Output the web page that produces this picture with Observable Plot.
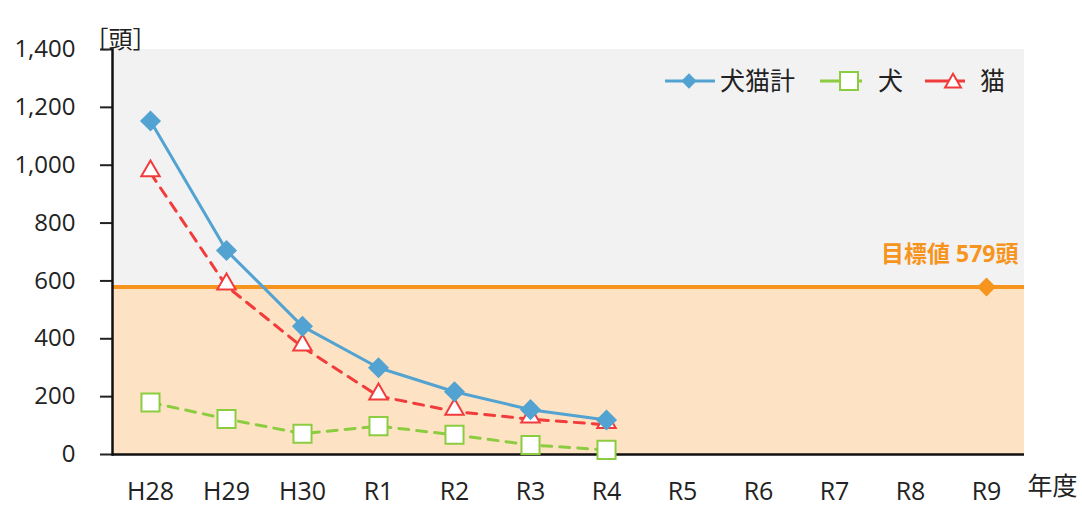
<!DOCTYPE html>
<html><head><meta charset="utf-8">
<script src="https://cdn.jsdelivr.net/npm/d3@7"></script>
<script src="https://cdn.jsdelivr.net/npm/@observablehq/plot@0.6"></script>
<style>
body{margin:0;background:#fff;font-family:'Open Sans','Noto Sans CJK JP',sans-serif;}
#wrap{position:relative;width:1082px;height:506px;}
#legend{position:absolute;left:660px;top:58px;overflow:visible;}
</style></head>
<body><div id="wrap"><div id="chart"></div>
<svg id="legend" width="390" height="46"></svg></div>
<script>
const years = ["H28","H29","H30","R1","R2","R3","R4","R5","R6","R7","R8","R9"];
const dataYears = ["H28","H29","H30","R1","R2","R3","R4"];
const total = [1153, 705, 443, 300, 217, 155, 119];
const dogs = [180, 123, 72, 98, 68, 33, 16];
const cats = [973, 582, 371, 202, 149, 122, 103];
const target = 579;
const targetYear = "R9";
const yTicks = [0, 200, 400, 600, 800, 1000, 1200, 1400];
const seriesNames = ["犬猫計", "犬", "猫"];

const cBlue = "#52a2d2", cGreen = "#8ccc40", cRed = "#f23c3c", cOrange = "#f7941d";
const font = "'Open Sans','Noto Sans CJK JP',sans-serif";

const tot = dataYears.map((y, i) => ({year: y, v: total[i]}));
const dog = dataYears.map((y, i) => ({year: y, v: dogs[i]}));
const cat = dataYears.map((y, i) => ({year: y, v: cats[i]}));

const chart = Plot.plot({
  width: 1082, height: 506,
  marginTop: 49, marginBottom: 52, marginLeft: 112, marginRight: 58,
  style: {fontFamily: font, color: "#222", background: "transparent"},
  x: {type: "point", domain: years, padding: 0.5},
  y: {domain: [0, 1400]},
  marks: [
    Plot.rect([{y1: target, y2: 1400}], {y1: "y1", y2: "y2", fill: "#f2f2f2"}),
    Plot.rect([{y1: 0, y2: target}], {y1: "y1", y2: "y2", fill: "#fde3c3"}),
    Plot.ruleY([target], {stroke: cOrange, strokeWidth: 4}),
    Plot.axisY({ticks: yTicks, tickFormat: d3.format(","), tickSize: 12, tickPadding: 25, fontSize: 24, strokeWidth: 2, label: null}),
    Plot.axisX({tickSize: 0, tickPadding: 28, fontSize: 25, label: null}),
    Plot.ruleY([0], {stroke: "#111", strokeWidth: 2.5}),
    Plot.frame({anchor: "left", stroke: "#111", strokeWidth: 2.5}),
    Plot.lineY(dog, {x: "year", y: "v", stroke: cGreen, strokeWidth: 3, strokeDasharray: "10,8"}),
    Plot.lineY(cat, {x: "year", y: "v", stroke: cRed, strokeWidth: 3, strokeDasharray: "10,8"}),
    Plot.lineY(tot, {x: "year", y: "v", stroke: cBlue, strokeWidth: 3}),
    Plot.dot(dog, {x: "year", y: "v", symbol: "square2", r: 11.5, fill: "white", stroke: cGreen, strokeWidth: 2}),
    Plot.dot(cat, {x: "year", y: "v", symbol: "triangle2", r: 8.8, dy: -2, fill: "white", stroke: cRed, strokeWidth: 2}),
    Plot.dot(tot, {x: "year", y: "v", symbol: "diamond2", r: 9.5, fill: cBlue}),
    Plot.dot([{year: targetYear, v: target}], {x: "year", y: "v", symbol: "diamond2", r: 8.5, fill: cOrange}),
    Plot.text([`目標値 ${target}頭`], {frameAnchor: "right", y: () => target, dx: -6, dy: -32, textAnchor: "end", fill: cOrange, fontSize: 23, fontWeight: "bold"}),
    Plot.text(["年度"], {frameAnchor: "bottom-right", dx: 3, dy: 40, textAnchor: "start", fontSize: 25, fill: "#222"}),
    Plot.text(["［頭］"], {frameAnchor: "top-left", dx: 8, dy: -19, textAnchor: "middle", fontSize: 24, fill: "#222"})
  ]
});
document.getElementById("chart").appendChild(chart);

// legend
const lg = d3.select("#legend");
const cy = 23;
const fs = 25;
// total
lg.append("line").attr("x1", 5).attr("x2", 55).attr("y1", cy).attr("y2", cy).attr("stroke", cBlue).attr("stroke-width", 3);
lg.append("path").attr("d", d3.symbol(d3.symbolDiamond2, 150)()).attr("transform", `translate(29,${cy})`).attr("fill", cBlue);
lg.append("text").attr("x", 60).attr("y", cy).attr("dy", "0.36em").attr("font-size", fs).attr("fill", "#222").style("font-family", font).text(seriesNames[0]);
// dog
lg.append("line").attr("x1", 160).attr("x2", 202).attr("y1", cy).attr("y2", cy).attr("stroke", cGreen).attr("stroke-width", 3);
lg.append("rect").attr("x", 180).attr("y", cy - 9).attr("width", 18).attr("height", 18).attr("fill", "white").attr("stroke", cGreen).attr("stroke-width", 2);
lg.append("text").attr("x", 218).attr("y", cy).attr("dy", "0.36em").attr("font-size", fs).attr("fill", "#222").style("font-family", font).text(seriesNames[1]);
// cat
lg.append("line").attr("x1", 265).attr("x2", 305).attr("y1", cy).attr("y2", cy).attr("stroke", cRed).attr("stroke-width", 3);
lg.append("path").attr("d", d3.symbol(d3.symbolTriangle2, 180)()).attr("transform", `translate(293,${cy + 2})`).attr("fill", "white").attr("stroke", cRed).attr("stroke-width", 2);
lg.append("text").attr("x", 320).attr("y", cy).attr("dy", "0.36em").attr("font-size", fs).attr("fill", "#222").style("font-family", font).text(seriesNames[2]);
</script></body></html>
